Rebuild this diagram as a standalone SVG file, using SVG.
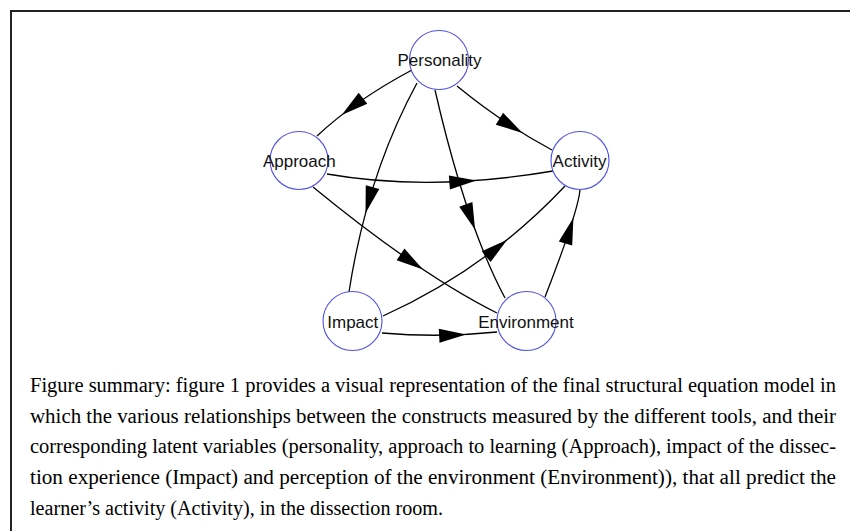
<svg xmlns="http://www.w3.org/2000/svg" xmlns:xlink="http://www.w3.org/1999/xlink" width="850" height="531" viewBox="0 0 850 531">
<style>
.edge{fill:none;stroke:#000;stroke-width:1.3}
.node circle{fill:#fff;stroke:#5050e6;stroke-width:1.1}
.node text{font-family:"Liberation Sans",Arial,sans-serif;font-size:17px;fill:#111;text-anchor:middle}
.cap{font-family:"Liberation Serif","Times New Roman",serif;font-size:20px;fill:#000}
</style>
<defs>
<path id="ah" d="M0,0 L-27,-7 L-27,7 Z" fill="#000"/>
</defs>
<rect width="850" height="531" fill="#fff"/>
<path d="M11,531 V11 H850" fill="none" stroke="#222" stroke-width="2"/>
<g id="connectors">
<path class="edge" d="M412,70 Q355.5,100 317,136"/>
<use xlink:href="#ah" href="#ah" transform="translate(341.7,114.9) rotate(142)"/>
<path class="edge" d="M417,83 Q367,175 349,292"/>
<use xlink:href="#ah" href="#ah" transform="translate(365.5,213.2) rotate(105.1)"/>
<path class="edge" d="M435,90 Q466,225 505,298"/>
<use xlink:href="#ah" href="#ah" transform="translate(475.1,229.7) rotate(69.9)"/>
<path class="edge" d="M457,86 Q502,123 552,150"/>
<use xlink:href="#ah" href="#ah" transform="translate(522.4,132.9) rotate(31.7)"/>
<path class="edge" d="M327,174 Q430,192 553,171"/>
<use xlink:href="#ah" href="#ah" transform="translate(476.3,180.5) rotate(-4.2)"/>
<path class="edge" d="M313,187 Q419,274 497,313"/>
<use xlink:href="#ah" href="#ah" transform="translate(423,269.4) rotate(33.7)"/>
<path class="edge" d="M383,316 Q487,269 565,186"/>
<use xlink:href="#ah" href="#ah" transform="translate(507.2,239.7) rotate(-38.9)"/>
<path class="edge" d="M382,333 Q440,338 497,332"/>
<use xlink:href="#ah" href="#ah" transform="translate(466.1,334.4) rotate(-3)"/>
<path class="edge" d="M545,297 Q578,212 580,190"/>
<use xlink:href="#ah" href="#ah" transform="translate(573.4,217.7) rotate(-73)"/>
</g>
<g id="personality" class="node"><circle cx="439" cy="60" r="29.5"/><text x="439.5" y="66">Personality</text></g>
<g id="approach" class="node"><circle cx="299" cy="160.5" r="29"/><text x="299.3" y="166.5">Approach</text></g>
<g id="activity" class="node"><circle cx="580" cy="160.5" r="29"/><text x="579.5" y="166.5">Activity</text></g>
<g id="impact" class="node"><circle cx="352.5" cy="321" r="29.5"/><text x="352.8" y="327.5">Impact</text></g>
<g id="environment" class="node"><circle cx="526.5" cy="321" r="29.5"/><text x="526" y="327.5">Environment</text></g>
<g id="caption" class="cap">
<text x="30" y="392" textLength="806" lengthAdjust="spacingAndGlyphs">Figure summary: figure 1 provides a visual representation of the final structural equation model in</text>
<text x="30" y="423" textLength="806" lengthAdjust="spacingAndGlyphs">which the various relationships between the constructs measured by the different tools, and their</text>
<text x="30" y="453" textLength="806" lengthAdjust="spacingAndGlyphs">corresponding latent variables (personality, approach to learning (Approach), impact of the dissec-</text>
<text x="30" y="484" textLength="806" lengthAdjust="spacingAndGlyphs">tion experience (Impact) and perception of the environment (Environment)), that all predict the</text>
<text x="30" y="515" textLength="413" lengthAdjust="spacingAndGlyphs">learner’s activity (Activity), in the dissection room.</text>
</g>
</svg>
